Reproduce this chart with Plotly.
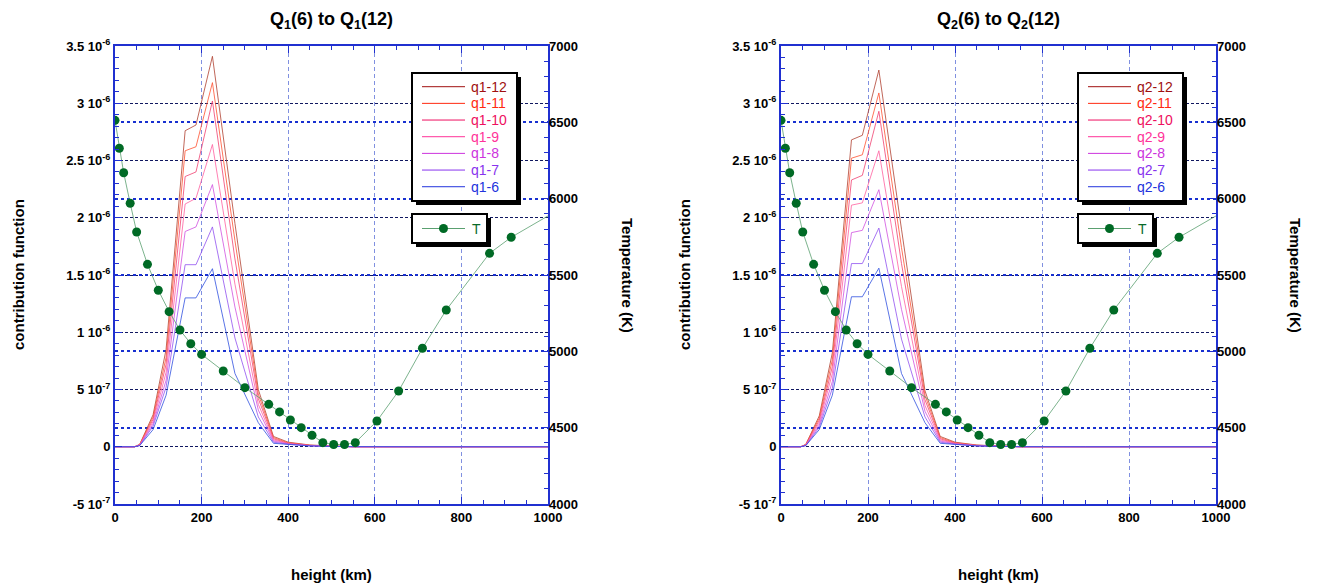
import plotly.graph_objects as go

# heights (km) of contribution function samples
h = [0, 45, 57, 88, 118, 162, 187, 225, 277, 331, 366, 400, 450, 500, 550, 600, 700, 800, 900, 1000]
pad = [0, 0, 0, 0, 0]

# contribution functions, units of 1e-6
q1 = {
    'q1-12': [0, 0, 0.02, 0.28, 0.85, 2.76, 2.81, 3.41, 1.95, 0.50, 0.09, 0.04, 0.015, 0.005] + pad + [0],
    'q1-11': [0, 0, 0.02, 0.26, 0.78, 2.585, 2.62, 3.18, 1.80, 0.46, 0.08, 0.035, 0.013, 0.004] + pad + [0],
    'q1-10': [0, 0, 0.015, 0.24, 0.72, 2.36, 2.40, 3.02, 1.64, 0.42, 0.07, 0.03, 0.012, 0.004] + pad + [0],
    'q1-9': [0, 0, 0.015, 0.22, 0.65, 2.12, 2.17, 2.64, 1.42, 0.37, 0.06, 0.028, 0.01, 0.003] + pad + [0],
    'q1-8': [0, 0, 0.012, 0.20, 0.58, 1.88, 1.92, 2.29, 1.22, 0.32, 0.05, 0.025, 0.009, 0.003] + pad + [0],
    'q1-7': [0, 0, 0.01, 0.18, 0.52, 1.59, 1.59, 1.92, 0.95, 0.26, 0.04, 0.022, 0.008, 0.002] + pad + [0],
    'q1-6': [0, 0, 0.01, 0.15, 0.45, 1.30, 1.30, 1.555, 0.64, 0.21, 0.03, 0.02, 0.007, 0.002] + pad + [0],
}
q2 = {
    'q2-12': [0, 0, 0.02, 0.27, 0.82, 2.68, 2.72, 3.29, 1.90, 0.49, 0.09, 0.04, 0.015, 0.005] + pad + [0],
    'q2-11': [0, 0, 0.02, 0.25, 0.76, 2.52, 2.55, 3.09, 1.74, 0.45, 0.08, 0.035, 0.013, 0.004] + pad + [0],
    'q2-10': [0, 0, 0.015, 0.23, 0.70, 2.33, 2.37, 2.93, 1.60, 0.41, 0.07, 0.03, 0.012, 0.004] + pad + [0],
    'q2-9': [0, 0, 0.015, 0.21, 0.64, 2.11, 2.13, 2.585, 1.40, 0.36, 0.06, 0.028, 0.01, 0.003] + pad + [0],
    'q2-8': [0, 0, 0.012, 0.19, 0.57, 1.87, 1.89, 2.245, 1.20, 0.31, 0.05, 0.025, 0.009, 0.003] + pad + [0],
    'q2-7': [0, 0, 0.01, 0.17, 0.51, 1.60, 1.60, 1.91, 0.94, 0.26, 0.04, 0.022, 0.008, 0.002] + pad + [0],
    'q2-6': [0, 0, 0.01, 0.15, 0.45, 1.31, 1.31, 1.56, 0.64, 0.21, 0.03, 0.02, 0.007, 0.002] + pad + [0],
}

# temperature model
t_h = [0, 10, 20, 35, 50, 75, 100, 125, 150, 175, 200, 250, 300, 355, 380, 405, 430, 455,
       480, 505, 530, 555, 605, 655, 710, 765, 865, 915, 1000]
t_T = [6513, 6330, 6170, 5970, 5782, 5570, 5400, 5260, 5140, 5050, 4980, 4871, 4762, 4653,
       4603, 4550, 4500, 4450, 4402, 4390, 4390, 4402, 4544, 4740, 5020, 5271, 5642, 5747, 5887]

line_colors = ['#b04030', '#ff5030', '#f04070', '#ff60a0', '#d050e0', '#9050f0', '#3050e0']
text_colors = ['#a01010', '#ff2a10', '#ee1060', '#ff3399', '#cc33dd', '#8833ee', '#2233dd']

yvals = [-0.5, 0, 0.5, 1, 1.5, 2, 2.5, 3, 3.5]
ytext = ['-5 10<sup>-7</sup>', '0', '5 10<sup>-7</sup>', '1 10<sup>-6</sup>', '1.5 10<sup>-6</sup>',
         '2 10<sup>-6</sup>', '2.5 10<sup>-6</sup>', '3 10<sup>-6</sup>', '3.5 10<sup>-6</sup>']
tvals = [4000, 4500, 5000, 5500, 6000, 6500, 7000]
xvals = [0, 200, 400, 600, 800, 1000]

W, H = 1326, 588
OX, OY = 8, 7  # page offset seen in the screenshot


def px(x):
    return (x - OX) / W


def py(y):
    return 1 - (y - OY) / H


panels = [
    dict(data=q1, x0=115, x1=548, xa='x', ya='y', ya2='y3', idx=1),
    dict(data=q2, x0=781, x1=1216, xa='x2', ya='y2', ya2='y4', idx=2),
]
ytop, ybot = 45, 503

fig = go.Figure()
layout = dict(width=W, height=H, margin=dict(l=0, r=0, t=0, b=0, autoexpand=False),
              plot_bgcolor='white', paper_bgcolor='white', showlegend=False,
              font=dict(family='Liberation Sans, Arial', size=13, color='black'),
              shapes=[], annotations=[])


def label(text, x, y, size, angle=0, color='black', xanchor='center'):
    return dict(text=text, x=px(x), y=py(y), xref='paper', yref='paper', showarrow=False,
                xanchor=xanchor, yanchor='middle', textangle=angle,
                font=dict(size=size, color=color))


for p in panels:
    for (name, vals), lc in zip(p['data'].items(), line_colors):
        fig.add_trace(go.Scatter(
            x=h, y=[v * 1e-6 for v in vals], mode='lines', xaxis=p['xa'], yaxis=p['ya'],
            line=dict(color=lc, width=0.8), name=name))
    fig.add_trace(go.Scatter(
        x=t_h, y=t_T, mode='lines+markers', xaxis=p['xa'], yaxis=p['ya2'],
        line=dict(color='#5aa070', width=0.8),
        marker=dict(color='#006a25', size=[9] * (len(t_T) - 1) + [0], opacity=1,
                    line=dict(width=0)),
        name='T'))

    i = p['idx']
    axsuffix = '' if i == 1 else '2'
    layout['xaxis' + axsuffix] = dict(
        domain=[px(p['x0']), px(p['x1'])], range=[0, 1000], anchor=p['ya'], tickvals=xvals,
        automargin=False, ticktext=['<b>%d</b>' % v for v in xvals], showline=True,
        linecolor='#2030d0', linewidth=2, mirror='ticks', ticks='inside', ticklen=7,
        tickcolor='#2030d0', zeroline=False,
        showgrid=True, gridcolor='#8090e0', griddash='4px,3px', gridwidth=0.6,
        minor=dict(dtick=50, ticks='inside', ticklen=4, tickcolor='#2030d0', showgrid=False))
    layout['yaxis' + axsuffix] = dict(
        domain=[py(ybot), py(ytop)], range=[-0.5e-6, 3.5e-6], anchor=p['xa'], automargin=False,
        tickvals=[v * 1e-6 for v in yvals], ticktext=['<b>%s</b>' % t for t in ytext],
        showline=True, linecolor='#2030d0', linewidth=2, mirror=True, ticks='inside', ticklen=7,
        tickcolor='#2030d0', zeroline=False, showgrid=True, gridcolor='#101860',
        griddash='3px,2px', gridwidth=0.6,
        minor=dict(dtick=1e-7, ticks='inside', ticklen=4, tickcolor='#2030d0', showgrid=False))
    layout['yaxis' + ('3' if i == 1 else '4')] = dict(
        overlaying=p['ya'], side='right', anchor=p['xa'], range=[4000, 7000], automargin=False,
        tickvals=tvals, ticktext=['<b>%d</b>' % v for v in tvals], ticks='inside', ticklen=7,
        tickcolor='#2030d0', showgrid=True, gridcolor='#1830d0', griddash='dot', gridwidth=1.6,
        zeroline=False, showline=False,
        minor=dict(dtick=100, ticks='inside', ticklen=4, tickcolor='#2030d0', showgrid=False))

    cx = (p['x0'] + p['x1']) / 2
    layout['annotations'] += [
        label('<b>Q<sub>%d</sub>(6) to Q<sub>%d</sub>(12)</b>' % (i, i), cx, 19, 18),
        label('<b>height (km)</b>', cx, 573, 15),
        label('<b>contribution function</b>', p['x0'] - 97, 274, 15, angle=-90),
        label('<b>Temperature (K)</b>', p['x1'] + 80, 274, 15, angle=90),
    ]

    # hand-drawn legend boxes with drop shadows
    lx = p['x0'] + 297
    for (ax0, ay0, ax1, ay1) in [(lx, 72, lx + 105, 200), (lx, 213, lx + 75, 242)]:
        layout['shapes'].append(dict(type='rect', xref='paper', yref='paper',
                                     x0=px(ax0 + 4), x1=px(ax1 + 4), y0=py(ay1 + 4), y1=py(ay0 + 4),
                                     fillcolor='black', line=dict(width=0), layer='above'))
        layout['shapes'].append(dict(type='rect', xref='paper', yref='paper',
                                     x0=px(ax0), x1=px(ax1), y0=py(ay1), y1=py(ay0),
                                     fillcolor='white', line=dict(color='black', width=2),
                                     layer='above'))
    for k, (name, lc, tc) in enumerate(zip(p['data'].keys(), line_colors, text_colors)):
        yy = 85.7 + k * 16.67
        layout['shapes'].append(dict(type='line', xref='paper', yref='paper',
                                     x0=px(lx + 10), x1=px(lx + 53), y0=py(yy), y1=py(yy),
                                     line=dict(color=tc, width=1), layer='above'))
        layout['annotations'].append(label(name, lx + 57, yy, 14, color=tc, xanchor='left'))
    layout['shapes'].append(dict(type='line', xref='paper', yref='paper',
                                 x0=px(lx + 10), x1=px(lx + 53), y0=py(227.5), y1=py(227.5),
                                 line=dict(color='#5aa070', width=1), layer='above'))
    layout['shapes'].append(dict(type='circle', xref='paper', yref='paper',
                                 x0=px(lx + 27), x1=px(lx + 36), y0=py(232), y1=py(223),
                                 fillcolor='#006a25', line=dict(width=0), layer='above'))
    layout['annotations'].append(label('T', lx + 58, 227.5, 14, color='#0a6a2a', xanchor='left'))

fig.update_layout(**layout)
fig.write_html("out.html")
